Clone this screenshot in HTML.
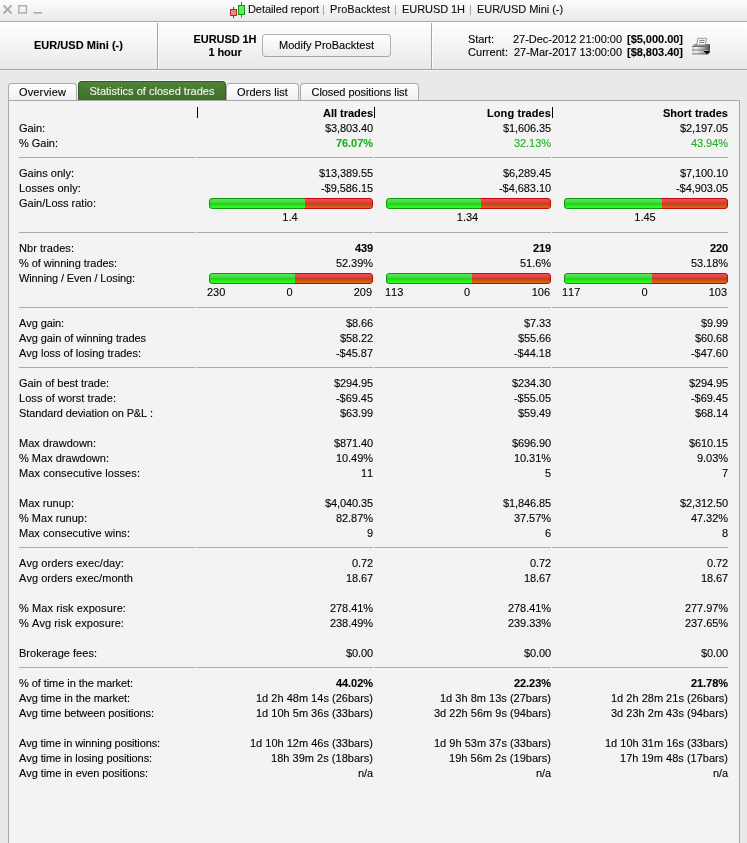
<!DOCTYPE html>
<html><head><meta charset="utf-8"><title>Detailed report</title>
<style>
html,body{margin:0;padding:0}
body{width:747px;height:843px;overflow:hidden;position:relative;background:#e9e9e9;font-family:"Liberation Sans",Arial,sans-serif;font-size:11px;color:#000;font-kerning:none;-webkit-text-stroke:0.14px rgba(0,0,0,0.75);}
#title{position:absolute;left:0;top:0;width:747px;height:21px;background:linear-gradient(#fcfcfc,#e9e9e9);border-bottom:1px solid #a9a9a9;}
#title .t{position:absolute;top:2px;font-size:11px;line-height:15px;color:#111;white-space:nowrap}
#title .p{color:#a0a0a0;-webkit-text-stroke:0}
#hdr{position:absolute;left:0;top:22px;width:747px;height:47px;background:linear-gradient(#ffffff,#e9e9e9);border-bottom:1px solid #a2a2a2;box-shadow:0 1px 0 #f6f6f6}
.vl{position:absolute;top:23px;width:1px;height:46px;background:#a6a6a6;box-shadow:1px 0 0 #fdfdfd}
.h1{position:absolute;font-weight:bold;font-size:11px;line-height:13px;text-align:center;white-space:nowrap}
#btn{position:absolute;left:262px;top:34px;width:127px;height:21px;border:1px solid #b2b2b2;border-bottom-color:#a4a4a4;border-radius:4px;background:linear-gradient(#ffffff,#ececec);font-size:11px;line-height:20px;text-align:center}
.sc{position:absolute;font-size:11px;line-height:13px;white-space:nowrap}
.tab{position:absolute;top:83px;height:16px;border:1px solid #aaa;border-bottom:none;border-radius:4px 4px 0 0;background:linear-gradient(#ffffff,#f0f0f0);font-size:11px;line-height:17px;text-align:center;white-space:nowrap;box-shadow:inset 0 1px 0 #fff}
.tab.on{top:81px;height:18px;line-height:19px;background:linear-gradient(#4f823a,#3c7025);border-color:#2f5f1b;color:#f6f6f6;-webkit-text-stroke:0.14px rgba(246,246,246,0.75);box-shadow:0 0 0 1px rgba(255,255,255,0.55)}
#panel{position:absolute;left:8px;top:100px;width:730px;height:760px;border:1px solid #a8a8a8;background:#f3f3f3}
.l,.v,.c,.w3{position:absolute;height:15px;line-height:15px;white-space:nowrap}
.l{left:19px}
.v{text-align:right}
.c{text-align:center}
.b{font-weight:bold}
.g{color:#1daf1d;-webkit-text-stroke:0.14px rgba(29,175,29,0.75)}
.tick{position:absolute;width:1px;height:11px;background:#000}
.sep{position:absolute;height:1px;background:#ababab}
.bar{position:absolute;height:11px;border-radius:3px;overflow:hidden}
.bar i{position:absolute;top:0;height:9px;display:block}
.gr{left:0;border:1px solid #0b9a0b;border-right:none;border-radius:3px 0 0 3px;background:linear-gradient(#52e852 0%,#40da40 42%,#22d21c 50%,#33ff22 100%)}
.rd{border:1px solid #bd0a0a;border-left:none;border-radius:0 3px 3px 0;background:linear-gradient(#f25252 0%,#dc3c3c 42%,#c2401a 50%,#da6a1c 100%)}
.bar i.gr{box-sizing:border-box;height:11px}
.bar i.gx{top:1px;width:1px;height:9px;background:linear-gradient(#52e852 0%,#40da40 42%,#22d21c 50%,#33ff22 100%)}
.bar i.rd{box-sizing:border-box;height:11px}
.w3 span{position:absolute;top:0}
.wl{left:0} .wr{right:0} .wc{left:0;right:0;text-align:center}
#w{position:absolute;left:0;top:0;width:747px;height:843px;will-change:transform}
</style></head><body><div id="w">
<div id="title">
<svg style="position:absolute;left:0;top:0" width="60" height="21" viewBox="0 0 60 21"><g stroke="#a8a8a8" stroke-width="1.6" fill="none"><path d="M3.600 5.300l8 8.200M11.600 5.300l-8 8.200" stroke-width="1.800"/><rect x="18.800" y="5.800" width="7.600" height="7.200" stroke-width="1.300"/><path d="M33.500 12.800h8.500"/></g></svg>
<svg style="position:absolute;left:229px;top:0" width="18" height="20" viewBox="0 0 18 20"><path d="M4.500 7v11" stroke="#a82626" stroke-width="1"/><path d="M12.500 2v15.500" stroke="#109a10" stroke-width="1"/><rect x="1.500" y="9.500" width="6" height="6" fill="#f38686" stroke="#b22a2a"/><rect x="9.500" y="5.500" width="6" height="9" fill="#5cf05c" stroke="#0c980c"/></svg>
<span class="t" style="left:248px;letter-spacing:-0.077px">Detailed report</span><span class="t p" style="left:322px;letter-spacing:0.143px">|</span><span class="t" style="left:330px;letter-spacing:0.063px">ProBacktest</span><span class="t p" style="left:394px;letter-spacing:0.143px">|</span><span class="t" style="left:402px;letter-spacing:-0.063px">EURUSD 1H</span><span class="t p" style="left:469px;letter-spacing:0.143px">|</span><span class="t" style="left:477px;letter-spacing:-0.048px">EUR/USD Mini (-)</span>
</div>
<div id="hdr"></div>
<div class="vl" style="left:157px"></div>
<div class="vl" style="left:431px"></div>
<div class="h1" style="left:0;width:157px;top:39px;letter-spacing:0.025px">EUR/USD Mini (-)</div>
<div class="h1" style="left:175px;width:100px;top:33px;letter-spacing:-0.063px">EURUSD 1H<br>1 hour</div>
<div id="btn" style="letter-spacing:0.014px">Modify ProBacktest</div>
<div class="sc" style="left:468px;top:33px;letter-spacing:-0.048px">Start:</div>
<div class="sc" style="left:513px;top:33px;letter-spacing:-0.023px">27-Dec-2012 21:00:00</div><div class="sc" style="left:627px;top:33px;letter-spacing:-0.024px"><b>[$5,000.00]</b></div>
<div class="sc" style="left:468px;top:46px;letter-spacing:0.033px">Current:</div>
<div class="sc" style="left:514px;top:46px;letter-spacing:-0.043px">27-Mar-2017 13:00:00</div><div class="sc" style="left:627px;top:46px;letter-spacing:-0.024px"><b>[$8,803.40]</b></div>
<svg style="position:absolute;left:690px;top:36px" width="24" height="20" viewBox="690 36 24 20"><defs><linearGradient id="pg" x1="0" x2="1" y1="0" y2="0"><stop offset="0" stop-color="#cfcfcf"/><stop offset="0.250" stop-color="#f6f6f6"/><stop offset="0.700" stop-color="#a8a8a8"/><stop offset="1" stop-color="#5c5c5c"/></linearGradient><linearGradient id="pt" x1="0" x2="1" y1="0" y2="0"><stop offset="0" stop-color="#a4a4a4"/><stop offset="1" stop-color="#6a6a6a"/></linearGradient></defs><path d="M692 46.800l2.200-2.800h15.800v8.200l-1.800 2h-15.400q-0.800 0-0.800-0.800z" fill="url(#pt)"/><path d="M692 47h16.300v7.200h-15.500q-0.800 0-0.800-0.800z" fill="url(#pg)"/><path d="M692 46.500h16.300M692 50h16.300M692.500 53.800h15.800" stroke="#6e6e6e" stroke-width="1" opacity="0.900"/><path d="M708.300 46.400l1.700-2.200v8l-1.700 2z" fill="#4e4e4e"/><path d="M698 38.300h8.700l-1.500 6.600h-8.700z" fill="#ffffff" stroke="#8c8c8c" stroke-width="0.900"/><path d="M699.300 40.400h5.400M699 42.400h5.400" stroke="#7c7c7c" stroke-width="1"/><path d="M703.400 51h7l-3.500 3.600z" fill="#050505" stroke="#f2f2f2" stroke-width="0.700" paint-order="stroke"/></svg>
<div id="panel"></div>
<div class="tab" style="left:8px;width:67px;letter-spacing:0.145px">Overview</div>
<div class="tab on" style="left:78px;width:146px;letter-spacing:0.01px">Statistics of closed trades</div>
<div class="tab" style="left:226px;width:71px;letter-spacing:0.08px">Orders list</div>
<div class="tab" style="left:300px;width:117px;letter-spacing:-0.058px">Closed positions list</div>
<div style="position:absolute;left:8px;top:100px;width:732px;height:1px;background:#a8a8a8"></div>
<div class="v b" style="top:106px;left:197px;width:176px;letter-spacing:-0.013px">All trades</div>
<div class="v b" style="top:106px;left:374px;width:177px;letter-spacing:0.096px">Long trades</div>
<div class="v b" style="top:106px;left:552px;width:176px;letter-spacing:0.017px">Short trades</div>
<div class="tick" style="top:107px;left:197px"></div>
<div class="tick" style="top:107px;left:374px"></div>
<div class="tick" style="top:107px;left:552px"></div>
<div class="l" style="top:121px;letter-spacing:-0.058px">Gain:</div>
<div class="v" style="top:121px;left:197px;width:176px;letter-spacing:-0.104px">$3,803.40</div>
<div class="v" style="top:121px;left:374px;width:177px;letter-spacing:-0.104px">$1,606.35</div>
<div class="v" style="top:121px;left:552px;width:176px;letter-spacing:-0.104px">$2,197.05</div>
<div class="l" style="top:136px;letter-spacing:-0.018px">% Gain:</div>
<div class="v g b" style="top:136px;left:197px;width:176px;letter-spacing:-0.051px">76.07%</div>
<div class="v g" style="top:136px;left:374px;width:177px;letter-spacing:-0.051px">32.13%</div>
<div class="v g" style="top:136px;left:552px;width:176px;letter-spacing:-0.051px">43.94%</div>
<div class="sep" style="top:157px;left:19px;width:177px"></div>
<div class="sep" style="top:157px;left:197px;width:176px"></div>
<div class="sep" style="top:157px;left:374px;width:177px"></div>
<div class="sep" style="top:157px;left:552px;width:176px"></div>
<div class="l" style="top:166px;letter-spacing:-0.002px">Gains only:</div>
<div class="v" style="top:166px;left:197px;width:176px;letter-spacing:-0.105px">$13,389.55</div>
<div class="v" style="top:166px;left:374px;width:177px;letter-spacing:-0.104px">$6,289.45</div>
<div class="v" style="top:166px;left:552px;width:176px;letter-spacing:-0.104px">$7,100.10</div>
<div class="l" style="top:181px;letter-spacing:0.071px">Losses only:</div>
<div class="v" style="top:181px;left:197px;width:176px;letter-spacing:-0.06px">-$9,586.15</div>
<div class="v" style="top:181px;left:374px;width:177px;letter-spacing:-0.06px">-$4,683.10</div>
<div class="v" style="top:181px;left:552px;width:176px;letter-spacing:-0.06px">-$4,903.05</div>
<div class="l" style="top:196px;letter-spacing:-0.002px">Gain/Loss ratio:</div>
<div class="bar" style="top:198px;left:209px;width:164px"><i class="gr" style="width:95px"></i><i class="rd" style="left:95px;width:69px"></i><i class="gx" style="left:95px"></i></div>
<div class="bar" style="top:198px;left:386px;width:165px"><i class="gr" style="width:94px"></i><i class="rd" style="left:94px;width:71px"></i><i class="gx" style="left:94px"></i></div>
<div class="bar" style="top:198px;left:564px;width:164px"><i class="gr" style="width:97px"></i><i class="rd" style="left:97px;width:67px"></i><i class="gx" style="left:97px"></i></div>
<div class="c" style="top:210px;left:208px;width:164px">1.4</div>
<div class="c" style="top:210px;left:385px;width:165px">1.34</div>
<div class="c" style="top:210px;left:563px;width:164px">1.45</div>
<div class="sep" style="top:232px;left:19px;width:177px"></div>
<div class="sep" style="top:232px;left:197px;width:176px"></div>
<div class="sep" style="top:232px;left:374px;width:177px"></div>
<div class="sep" style="top:232px;left:552px;width:176px"></div>
<div class="l" style="top:241px;letter-spacing:0.054px">Nbr trades:</div>
<div class="v b" style="top:241px;left:197px;width:176px;letter-spacing:-0.118px">439</div>
<div class="v b" style="top:241px;left:374px;width:177px;letter-spacing:-0.118px">219</div>
<div class="v b" style="top:241px;left:552px;width:176px;letter-spacing:-0.118px">220</div>
<div class="l" style="top:256px;letter-spacing:-0.053px">% of winning trades:</div>
<div class="v" style="top:256px;left:197px;width:176px;letter-spacing:-0.051px">52.39%</div>
<div class="v" style="top:256px;left:374px;width:177px;letter-spacing:-0.038px">51.6%</div>
<div class="v" style="top:256px;left:552px;width:176px;letter-spacing:-0.051px">53.18%</div>
<div class="l" style="top:271px;letter-spacing:-0.109px">Winning / Even / Losing:</div>
<div class="bar" style="top:273px;left:209px;width:164px"><i class="gr" style="width:85px"></i><i class="rd" style="left:85px;width:79px"></i><i class="gx" style="left:85px"></i></div>
<div class="bar" style="top:273px;left:386px;width:165px"><i class="gr" style="width:85px"></i><i class="rd" style="left:85px;width:80px"></i><i class="gx" style="left:85px"></i></div>
<div class="bar" style="top:273px;left:564px;width:164px"><i class="gr" style="width:87px"></i><i class="rd" style="left:87px;width:77px"></i><i class="gx" style="left:87px"></i></div>
<div class="w3" style="top:285px;left:207px;width:165px"><span class="wl">230</span><span class="wc">0</span><span class="wr">209</span></div>
<div class="w3" style="top:285px;left:384px;width:166px"><span class="wl" style="left:1px">113</span><span class="wc">0</span><span class="wr">106</span></div>
<div class="w3" style="top:285px;left:562px;width:165px"><span class="wl">117</span><span class="wc">0</span><span class="wr">103</span></div>
<div class="sep" style="top:307px;left:19px;width:177px"></div>
<div class="sep" style="top:307px;left:197px;width:176px"></div>
<div class="sep" style="top:307px;left:374px;width:177px"></div>
<div class="sep" style="top:307px;left:552px;width:176px"></div>
<div class="l" style="top:316px;letter-spacing:-0.096px">Avg gain:</div>
<div class="v" style="top:316px;left:197px;width:176px;letter-spacing:-0.105px">$8.66</div>
<div class="v" style="top:316px;left:374px;width:177px;letter-spacing:-0.105px">$7.33</div>
<div class="v" style="top:316px;left:552px;width:176px;letter-spacing:-0.105px">$9.99</div>
<div class="l" style="top:331px;letter-spacing:-0.078px">Avg gain of winning trades</div>
<div class="v" style="top:331px;left:197px;width:176px;letter-spacing:-0.107px">$58.22</div>
<div class="v" style="top:331px;left:374px;width:177px;letter-spacing:-0.107px">$55.66</div>
<div class="v" style="top:331px;left:552px;width:176px;letter-spacing:-0.107px">$60.68</div>
<div class="l" style="top:346px;letter-spacing:-0.011px">Avg loss of losing trades:</div>
<div class="v" style="top:346px;left:197px;width:176px;letter-spacing:-0.044px">-$45.87</div>
<div class="v" style="top:346px;left:374px;width:177px;letter-spacing:-0.044px">-$44.18</div>
<div class="v" style="top:346px;left:552px;width:176px;letter-spacing:-0.044px">-$47.60</div>
<div class="sep" style="top:367px;left:19px;width:177px"></div>
<div class="sep" style="top:367px;left:197px;width:176px"></div>
<div class="sep" style="top:367px;left:374px;width:177px"></div>
<div class="sep" style="top:367px;left:552px;width:176px"></div>
<div class="l" style="top:376px;letter-spacing:-0.026px">Gain of best trade:</div>
<div class="v" style="top:376px;left:197px;width:176px;letter-spacing:-0.109px">$294.95</div>
<div class="v" style="top:376px;left:374px;width:177px;letter-spacing:-0.109px">$234.30</div>
<div class="v" style="top:376px;left:552px;width:176px;letter-spacing:-0.109px">$294.95</div>
<div class="l" style="top:391px;letter-spacing:0.051px">Loss of worst trade:</div>
<div class="v" style="top:391px;left:197px;width:176px;letter-spacing:-0.044px">-$69.45</div>
<div class="v" style="top:391px;left:374px;width:177px;letter-spacing:-0.044px">-$55.05</div>
<div class="v" style="top:391px;left:552px;width:176px;letter-spacing:-0.044px">-$69.45</div>
<div class="l" style="top:406px;letter-spacing:-0.111px">Standard deviation on P&amp;L :</div>
<div class="v" style="top:406px;left:197px;width:176px;letter-spacing:-0.107px">$63.99</div>
<div class="v" style="top:406px;left:374px;width:177px;letter-spacing:-0.107px">$59.49</div>
<div class="v" style="top:406px;left:552px;width:176px;letter-spacing:-0.107px">$68.14</div>
<div class="l" style="top:436px;letter-spacing:-0.002px">Max drawdown:</div>
<div class="v" style="top:436px;left:197px;width:176px;letter-spacing:-0.109px">$871.40</div>
<div class="v" style="top:436px;left:374px;width:177px;letter-spacing:-0.109px">$696.90</div>
<div class="v" style="top:436px;left:552px;width:176px;letter-spacing:-0.109px">$610.15</div>
<div class="l" style="top:451px;letter-spacing:0.009px">% Max drawdown:</div>
<div class="v" style="top:451px;left:197px;width:176px;letter-spacing:-0.051px">10.49%</div>
<div class="v" style="top:451px;left:374px;width:177px;letter-spacing:-0.051px">10.31%</div>
<div class="v" style="top:451px;left:552px;width:176px;letter-spacing:-0.038px">9.03%</div>
<div class="l" style="top:466px;letter-spacing:0.078px">Max consecutive losses:</div>
<div class="v" style="top:466px;left:197px;width:176px;letter-spacing:-0.118px">11</div>
<div class="v" style="top:466px;left:374px;width:177px;letter-spacing:-0.118px">5</div>
<div class="v" style="top:466px;left:552px;width:176px;letter-spacing:-0.118px">7</div>
<div class="l" style="top:496px;letter-spacing:-0.003px">Max runup:</div>
<div class="v" style="top:496px;left:197px;width:176px;letter-spacing:-0.104px">$4,040.35</div>
<div class="v" style="top:496px;left:374px;width:177px;letter-spacing:-0.104px">$1,846.85</div>
<div class="v" style="top:496px;left:552px;width:176px;letter-spacing:-0.104px">$2,312.50</div>
<div class="l" style="top:511px;letter-spacing:0.011px">% Max runup:</div>
<div class="v" style="top:511px;left:197px;width:176px;letter-spacing:-0.051px">82.87%</div>
<div class="v" style="top:511px;left:374px;width:177px;letter-spacing:-0.051px">37.57%</div>
<div class="v" style="top:511px;left:552px;width:176px;letter-spacing:-0.051px">47.32%</div>
<div class="l" style="top:526px;letter-spacing:0.046px">Max consecutive wins:</div>
<div class="v" style="top:526px;left:197px;width:176px;letter-spacing:-0.118px">9</div>
<div class="v" style="top:526px;left:374px;width:177px;letter-spacing:-0.118px">6</div>
<div class="v" style="top:526px;left:552px;width:176px;letter-spacing:-0.118px">8</div>
<div class="sep" style="top:547px;left:19px;width:177px"></div>
<div class="sep" style="top:547px;left:197px;width:176px"></div>
<div class="sep" style="top:547px;left:374px;width:177px"></div>
<div class="sep" style="top:547px;left:552px;width:176px"></div>
<div class="l" style="top:556px;letter-spacing:0.084px">Avg orders exec/day:</div>
<div class="v" style="top:556px;left:197px;width:176px;letter-spacing:-0.102px">0.72</div>
<div class="v" style="top:556px;left:374px;width:177px;letter-spacing:-0.102px">0.72</div>
<div class="v" style="top:556px;left:552px;width:176px;letter-spacing:-0.102px">0.72</div>
<div class="l" style="top:571px;letter-spacing:0.042px">Avg orders exec/month</div>
<div class="v" style="top:571px;left:197px;width:176px;letter-spacing:-0.105px">18.67</div>
<div class="v" style="top:571px;left:374px;width:177px;letter-spacing:-0.105px">18.67</div>
<div class="v" style="top:571px;left:552px;width:176px;letter-spacing:-0.105px">18.67</div>
<div class="l" style="top:601px;letter-spacing:0.093px">% Max risk exposure:</div>
<div class="v" style="top:601px;left:197px;width:176px;letter-spacing:-0.061px">278.41%</div>
<div class="v" style="top:601px;left:374px;width:177px;letter-spacing:-0.061px">278.41%</div>
<div class="v" style="top:601px;left:552px;width:176px;letter-spacing:-0.061px">277.97%</div>
<div class="l" style="top:616px;letter-spacing:0.084px">% Avg risk exposure:</div>
<div class="v" style="top:616px;left:197px;width:176px;letter-spacing:-0.061px">238.49%</div>
<div class="v" style="top:616px;left:374px;width:177px;letter-spacing:-0.061px">239.33%</div>
<div class="v" style="top:616px;left:552px;width:176px;letter-spacing:-0.061px">237.65%</div>
<div class="l" style="top:646px;letter-spacing:0.023px">Brokerage fees:</div>
<div class="v" style="top:646px;left:197px;width:176px;letter-spacing:-0.105px">$0.00</div>
<div class="v" style="top:646px;left:374px;width:177px;letter-spacing:-0.105px">$0.00</div>
<div class="v" style="top:646px;left:552px;width:176px;letter-spacing:-0.105px">$0.00</div>
<div class="sep" style="top:667px;left:19px;width:177px"></div>
<div class="sep" style="top:667px;left:197px;width:176px"></div>
<div class="sep" style="top:667px;left:374px;width:177px"></div>
<div class="sep" style="top:667px;left:552px;width:176px"></div>
<div class="l" style="top:676px;letter-spacing:-0.064px">% of time in the market:</div>
<div class="v b" style="top:676px;left:197px;width:176px;letter-spacing:-0.051px">44.02%</div>
<div class="v b" style="top:676px;left:374px;width:177px;letter-spacing:-0.051px">22.23%</div>
<div class="v b" style="top:676px;left:552px;width:176px;letter-spacing:-0.051px">21.78%</div>
<div class="l" style="top:691px;letter-spacing:-0.065px">Avg time in the market:</div>
<div class="v" style="top:691px;left:197px;width:176px;letter-spacing:0.01px">1d 2h 48m 14s (26bars)</div>
<div class="v" style="top:691px;left:374px;width:177px;letter-spacing:0.016px">1d 3h 8m 13s (27bars)</div>
<div class="v" style="top:691px;left:552px;width:176px;letter-spacing:0.01px">1d 2h 28m 21s (26bars)</div>
<div class="l" style="top:706px;letter-spacing:-0.073px">Avg time between positions:</div>
<div class="v" style="top:706px;left:197px;width:176px;letter-spacing:0.01px">1d 10h 5m 36s (33bars)</div>
<div class="v" style="top:706px;left:374px;width:177px;letter-spacing:0.01px">3d 22h 56m 9s (94bars)</div>
<div class="v" style="top:706px;left:552px;width:176px;letter-spacing:0.01px">3d 23h 2m 43s (94bars)</div>
<div class="l" style="top:736px;letter-spacing:-0.11px">Avg time in winning positions:</div>
<div class="v" style="top:736px;left:197px;width:176px;letter-spacing:0.004px">1d 10h 12m 46s (33bars)</div>
<div class="v" style="top:736px;left:374px;width:177px;letter-spacing:0.01px">1d 9h 53m 37s (33bars)</div>
<div class="v" style="top:736px;left:552px;width:176px;letter-spacing:0.004px">1d 10h 31m 16s (33bars)</div>
<div class="l" style="top:751px;letter-spacing:-0.094px">Avg time in losing positions:</div>
<div class="v" style="top:751px;left:197px;width:176px;letter-spacing:0.026px">18h 39m 2s (18bars)</div>
<div class="v" style="top:751px;left:374px;width:177px;letter-spacing:0.026px">19h 56m 2s (19bars)</div>
<div class="v" style="top:751px;left:552px;width:176px;letter-spacing:0.019px">17h 19m 48s (17bars)</div>
<div class="l" style="top:766px;letter-spacing:-0.068px">Avg time in even positions:</div>
<div class="v" style="top:766px;left:197px;width:176px;letter-spacing:-0.097px">n/a</div>
<div class="v" style="top:766px;left:374px;width:177px;letter-spacing:-0.097px">n/a</div>
<div class="v" style="top:766px;left:552px;width:176px;letter-spacing:-0.097px">n/a</div>
</div></body></html>
